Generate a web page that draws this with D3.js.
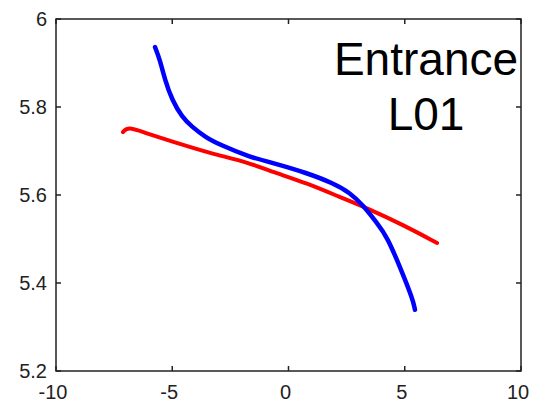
<!DOCTYPE html>
<html>
<head>
<meta charset="utf-8">
<script src="https://cdn.jsdelivr.net/npm/d3@7"></script>
<style>
  html, body { margin: 0; padding: 0; background: #fff; }
  svg { display: block; }
  .tick-label { font-family: "Liberation Sans", Arial, sans-serif; font-size: 20px; fill: #222; }
  .note { font-family: "Liberation Sans", Arial, sans-serif; font-size: 46px; fill: #000; }
</style>
</head>
<body>
<svg id="chart" width="535" height="403"></svg>
<script>
// values
var xTicks = [-10, -5, 0, 5, 10];
var yTicks = [5.2, 5.4, 5.6, 5.8, 6];
var noteLines = ["Entrance", "L01"];

var blueX = [-5.74, -5.53, -5.31, -5.01, -4.58, -4.15, -3.59, -2.95, -1.66, -0.67, 0.80, 1.91, 2.65, 3.20, 3.81, 4.24, 4.80, 5.36, 5.44];
var blueY = [5.936, 5.907, 5.861, 5.816, 5.777, 5.755, 5.732, 5.714, 5.686, 5.673, 5.650, 5.627, 5.605, 5.577, 5.536, 5.505, 5.436, 5.361, 5.339];

var redX = [-7.12, -6.90, -6.26, -4.80, -3.38, -1.66, -0.67, 0.80, 2.22, 3.38, 4.93, 6.39];
var redY = [5.743, 5.755, 5.743, 5.718, 5.695, 5.673, 5.652, 5.627, 5.595, 5.570, 5.532, 5.491];

var margin = {left: 56, right: 14, top: 19, bottom: 32};
var width = 535, height = 403;

var svg = d3.select("#chart");

var x = d3.scaleLinear().domain([-10, 10]).range([margin.left, width - margin.right]);
var y = d3.scaleLinear().domain([5.2, 6]).range([height - margin.bottom, margin.top]);

var line = d3.line()
  .x(function(d) { return x(d[0]); })
  .y(function(d) { return y(d[1]); })
  .curve(d3.curveBasis);

var blue = d3.zip(blueX, blueY);
var red = d3.zip(redX, redY);

svg.append("path")
  .datum(red)
  .attr("d", line)
  .attr("fill", "none")
  .attr("stroke", "#ff0000")
  .attr("stroke-width", 4)
  .attr("stroke-linejoin", "round")
  .attr("stroke-linecap", "round");

svg.append("path")
  .datum(blue)
  .attr("d", line)
  .attr("fill", "none")
  .attr("stroke", "#0000ff")
  .attr("stroke-width", 4.5)
  .attr("stroke-linejoin", "round")
  .attr("stroke-linecap", "round");

// box and inward ticks on all sides
var tickLen = 5;
var axes = svg.append("g").attr("stroke", "#222").attr("stroke-width", 1.5).attr("fill", "none");
axes.append("rect")
  .attr("x", x(-10)).attr("y", y(6))
  .attr("width", x(10) - x(-10)).attr("height", y(5.2) - y(6));

xTicks.forEach(function(t) {
  axes.append("line").attr("x1", x(t)).attr("x2", x(t)).attr("y1", y(5.2)).attr("y2", y(5.2) - tickLen);
  axes.append("line").attr("x1", x(t)).attr("x2", x(t)).attr("y1", y(6)).attr("y2", y(6) + tickLen);
});
yTicks.forEach(function(t) {
  axes.append("line").attr("y1", y(t)).attr("y2", y(t)).attr("x1", x(-10)).attr("x2", x(-10) + tickLen);
  axes.append("line").attr("y1", y(t)).attr("y2", y(t)).attr("x1", x(10)).attr("x2", x(10) - tickLen);
});

svg.selectAll(".xlab")
  .data(xTicks)
  .enter().append("text")
  .attr("class", "tick-label")
  .attr("x", function(d) { return x(d) - 3; })
  .attr("y", 399)
  .attr("text-anchor", "middle")
  .text(function(d) { return d; });

svg.selectAll(".ylab")
  .data(yTicks)
  .enter().append("text")
  .attr("class", "tick-label")
  .attr("x", x(-10) - 9)
  .attr("y", function(d) { return y(d); })
  .attr("dy", "0.36em")
  .attr("text-anchor", "end")
  .text(function(d) { return d3.format(".1f")(d).replace(".0", ""); });

svg.selectAll(".note")
  .data(noteLines)
  .enter().append("text")
  .attr("class", "note")
  .attr("x", 426)
  .attr("y", function(d, i) { return 75 + i * 55; })
  .attr("text-anchor", "middle")
  .text(function(d) { return d; });
</script>
</body>
</html>
